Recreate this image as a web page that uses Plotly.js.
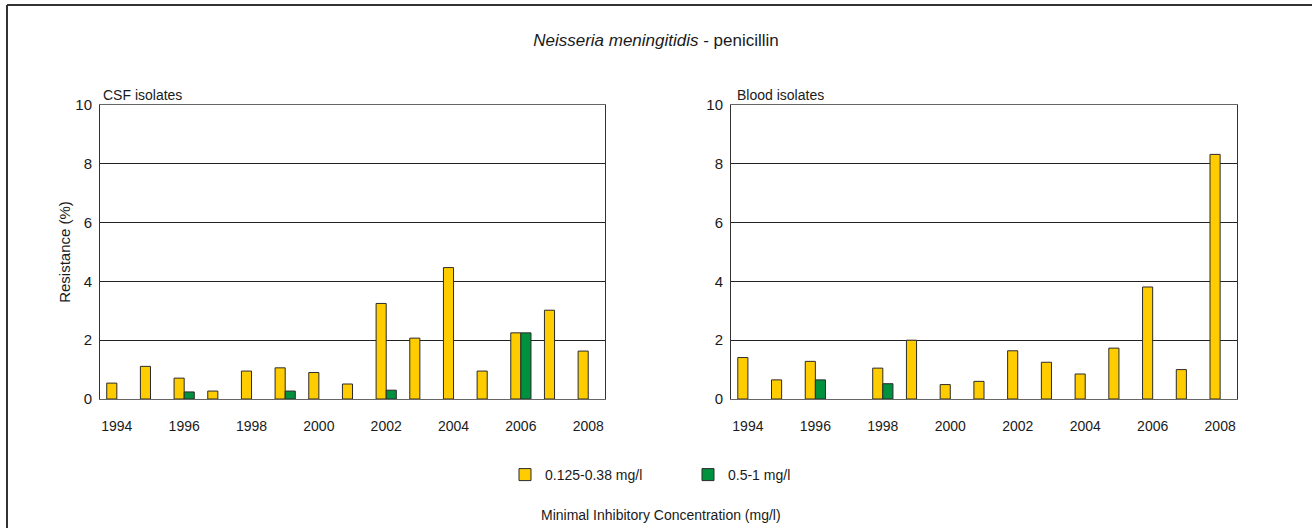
<!DOCTYPE html>
<html>
<head>
<meta charset="utf-8">
<script src="https://cdn.plot.ly/plotly-3.0.1.min.js"></script>
<style>
    html, body { margin: 0; padding: 0; background: #ffffff; }
    #plotly_graph { width: 1312px; height: 528px; }
</style>
</head>
<body>
<div id="plotly_graph"></div>
<script>
    //**************************************************************************
    //~~~~~~~~~~~~~~~~~~~~~~~~~~~~~~~~~~ DATA ~~~~~~~~~~~~~~~~~~~~~~~~~~~~~~~~~~
    //**************************************************************************

    const YEARS = [1994, 1995, 1996, 1997, 1998, 1999, 2000, 2001,
                   2002, 2003, 2004, 2005, 2006, 2007, 2008]

    const X_TICKS = [1994, 1996, 1998, 2000, 2002, 2004, 2006, 2008]
    const Y_TICKS = [0, 2, 4, 6, 8, 10]

    const MIC_NAMES = ['0.125-0.38 mg/l', '0.5-1 mg/l']

    // CSF isolates, resistance (%)
    const CSF_LOW  = [0.54, 1.11, 0.71, 0.27, 0.95, 1.06, 0.90, 0.51,
                      3.25, 2.07, 4.47, 0.95, 2.25, 3.02, 1.63]
    const CSF_HIGH = [null, null, 0.24, null, null, 0.27, null, null,
                      0.30, null, null, null, 2.25, null, null]

    // Blood isolates, resistance (%)
    const BLOOD_LOW  = [1.41, 0.65, 1.28, null, 1.05, 2.00, 0.49, 0.60,
                        1.64, 1.25, 0.85, 1.73, 3.81, 1.00, 8.32]
    const BLOOD_HIGH = [null, null, 0.65, null, 0.52, null, null, null,
                        null, null, null, null, null, null, null]


    //**************************************************************************
    //~~~~~~~~~~~~~~~~~~~~~~~~~~~~~~~~~ TRACES ~~~~~~~~~~~~~~~~~~~~~~~~~~~~~~~~~
    //**************************************************************************

    const FONT = 'Liberation Sans, Arial, sans-serif'
    const INK = '#1a1a1a'
    const YELLOW = '#ffcc00'
    const GREEN = '#00913f'
    const OUTLINE = { color: '#2b2b2b', width: 1 }

    let barTrace = (name, y, color, xa, ya, legend) => ({
        type: 'bar',
        name: name,
        x: YEARS,
        y: y,
        xaxis: xa,
        yaxis: ya,
        showlegend: legend,
        marker: { color: color, line: OUTLINE },
        hoverinfo: 'x+y+name'
    })

    let data = [
        barTrace(MIC_NAMES[0], CSF_LOW, YELLOW, 'x', 'y', true),
        barTrace(MIC_NAMES[1], CSF_HIGH, GREEN, 'x', 'y', true),
        barTrace(MIC_NAMES[0], BLOOD_LOW, YELLOW, 'x2', 'y2', false),
        barTrace(MIC_NAMES[1], BLOOD_HIGH, GREEN, 'x2', 'y2', false)
    ]


    //**************************************************************************
    //~~~~~~~~~~~~~~~~~~~~~~~~~~~~~~~~~ LAYOUT ~~~~~~~~~~~~~~~~~~~~~~~~~~~~~~~~~
    //**************************************************************************

    let xAxis = (domain, anchor) => ({
        domain: domain,
        anchor: anchor,
        range: [1993.5, 2008.5],
        tickvals: X_TICKS,
        ticktext: X_TICKS.map(String),
        ticks: 'outside',
        ticklen: 14,
        tickcolor: 'rgba(0,0,0,0)',
        showgrid: false,
        zeroline: false,
        showline: true,
        linecolor: '#666666',
        linewidth: 1,
        mirror: true,
        tickfont: { family: FONT, size: 14, color: INK }
    })

    let yAxis = (anchor) => ({
        anchor: anchor,
        domain: [0, 1],
        range: [0, 10],
        tickvals: Y_TICKS,
        ticks: 'outside',
        ticklen: 4,
        tickcolor: 'rgba(0,0,0,0)',
        showgrid: true,
        gridcolor: '#222222',
        gridwidth: 1,
        zeroline: false,
        showline: true,
        linecolor: '#333333',
        linewidth: 1,
        mirror: true,
        tickfont: { family: FONT, size: 15, color: INK }
    })

    let layout = {
        width: 1312,
        height: 528,
        margin: { t: 105, r: 75, b: 129, l: 100 },
        paper_bgcolor: '#ffffff',
        plot_bgcolor: '#ffffff',
        font: { family: FONT, size: 14, color: INK },
        barmode: 'group',
        bargap: 0.4,
        bargroupgap: 0,
        title: {
            text: '<i>Neisseria meningitidis</i> - penicillin',
            font: { family: FONT, size: 17, color: INK },
            x: 0.5,
            xref: 'container',
            xanchor: 'center',
            y: 1 - 40 / 528,
            yref: 'container',
            yanchor: 'middle'
        },
        xaxis: xAxis([0, 0.4442], 'y'),
        yaxis: Object.assign(yAxis('x'), {
            title: {
                text: 'Resistance (%)',
                font: { family: FONT, size: 15, color: INK },
                standoff: 1
            }
        }),
        xaxis2: xAxis([0.555, 1], 'y2'),
        yaxis2: yAxis('x2'),
        legend: {
            orientation: 'h',
            x: 0.3562,
            xanchor: 'left',
            y: -0.2585,
            yanchor: 'middle',
            entrywidth: 138,
            font: { family: FONT, size: 14, color: INK },
            bgcolor: 'rgba(0,0,0,0)'
        },
        annotations: [
            {
                text: 'CSF isolates', xref: 'paper', yref: 'paper',
                x: 0, y: 1, xanchor: 'left', yanchor: 'bottom',
                xshift: 1, showarrow: false,
                font: { family: FONT, size: 14, color: INK }
            },
            {
                text: 'Blood isolates', xref: 'paper', yref: 'paper',
                x: 0.555, y: 1, xanchor: 'left', yanchor: 'bottom',
                xshift: 4, showarrow: false,
                font: { family: FONT, size: 14, color: INK }
            },
            {
                text: 'Minimal Inhibitory Concentration (mg/l)',
                xref: 'paper', yref: 'paper',
                x: 0.4934, y: -0.3946, xanchor: 'center', yanchor: 'middle',
                showarrow: false,
                font: { family: FONT, size: 14, color: INK }
            }
        ],
        // outer frame of the original figure (only top and left edge show)
        shapes: [
            {
                type: 'line', xref: 'paper', yref: 'paper',
                x0: -0.0818, x1: 1.07, y0: 1.340, y1: 1.340,
                line: { color: '#333333', width: 2 }
            },
            {
                type: 'line', xref: 'paper', yref: 'paper',
                x0: -0.0818, x1: -0.0818, y0: 1.340, y1: -0.45,
                line: { color: '#333333', width: 2 }
            }
        ]
    }


    //**************************************************************************
    //~~~~~~~~~~~~~~~~~~~~~~~~~~~~~~~~~ CREATE ~~~~~~~~~~~~~~~~~~~~~~~~~~~~~~~~~
    //**************************************************************************

    const config = {
        displaylogo: false,
        displayModeBar: false,
        responsive: false
    }

    Plotly.newPlot(document.getElementById('plotly_graph'), data, layout, config)
</script>
</body>
</html>
